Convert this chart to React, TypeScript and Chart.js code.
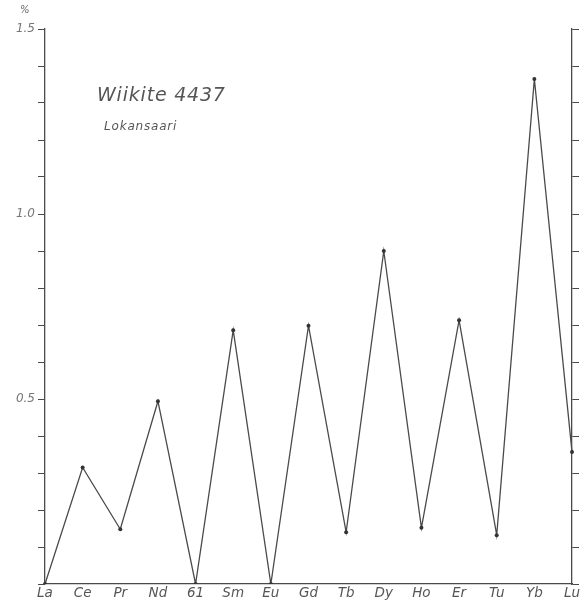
import React, { useEffect, useRef } from "react";
import { Chart, registerables } from "chart.js";

Chart.register(...registerables);

const elements = ["La", "Ce", "Pr", "Nd", "61", "Sm", "Eu", "Gd", "Tb", "Dy", "Ho", "Er", "Tu", "Yb", "Lu"];
const percent = [0, 0.315, 0.148, 0.494, 0, 0.686, 0, 0.698, 0.14, 0.9, 0.152, 0.713, 0.132, 1.365, 0.357];
const labelledTicks = [0.5, 1.0, 1.5];
const titleText = "Wiikite 4437";
const subtitleText = "Lokansaari";

const INK = "#4a4a4a";
const FONT = "'DejaVu Sans', sans-serif";

export default function App() {
  const ref = useRef<HTMLCanvasElement | null>(null);

  useEffect(() => {
    document.body.style.margin = "0";
    const ctx = ref.current!;
    const chart = new Chart(ctx, {
      type: "line",
      data: {
        labels: elements,
        datasets: [
          {
            data: percent,
            borderColor: INK,
            borderWidth: 1.3,
            pointRadius: 2,
            pointBackgroundColor: "#333",
            pointBorderWidth: 0,
            tension: 0,
            fill: false,
          },
        ],
      },
      options: {
        animation: false,
        responsive: false,
        devicePixelRatio: 1,
        layout: { padding: { top: 29, left: 0, right: 0, bottom: 0 } },
        plugins: { legend: { display: false }, tooltip: { enabled: false } },
        scales: {
          x: {
            type: "category",
            offset: false,
            grid: { display: false, drawTicks: false },
            border: { display: true, color: INK, width: 1.3 },
            ticks: {
              color: "#555",
              font: { family: FONT, style: "italic", size: 13.5 },
              padding: 1,
              maxRotation: 0,
              autoSkip: false,
            },
            afterFit: (s: any) => {
              s.height = 22;
            },
          },
          y: {
            position: "left",
            min: 0,
            max: 1.5,
            grid: { display: true, drawOnChartArea: false, drawTicks: true, tickLength: 7, color: INK, lineWidth: 1 },
            border: { display: true, color: INK, width: 1.3 },
            ticks: {
              stepSize: 0.1,
              color: "#777",
              padding: 3,
              font: { family: FONT, style: "italic", size: 12 },
              callback: (v: any) => {
                const n = Math.round(Number(v) * 10) / 10;
                if (labelledTicks.some((t) => Math.abs(t - n) < 1e-6)) return n.toFixed(1);
                return "";
              },
            },
            afterFit: (s: any) => {
              s.width = 45;
            },
          },
          y2: {
            position: "right",
            min: 0,
            max: 1.5,
            grid: { display: true, drawOnChartArea: false, drawTicks: true, tickLength: 7, color: INK, lineWidth: 1 },
            border: { display: true, color: INK, width: 1.3 },
            ticks: { stepSize: 0.1, display: true, callback: () => "", padding: 0 },
            afterFit: (s: any) => {
              s.width = 12;
            },
          },
        },
      },
    });
    return () => chart.destroy();
  }, []);

  return (
    <div style={{ position: "relative", width: 584, height: 606, background: "#fff" }}>
      <canvas ref={ref} width={584} height={606} style={{ position: "absolute", left: 0, top: 0 }} />
      <div
        style={{
          position: "absolute",
          left: 20,
          top: 4,
          fontFamily: FONT,
          fontStyle: "italic",
          fontSize: 10,
          color: "#666",
        }}
      >
        %
      </div>
      <div
        style={{
          position: "absolute",
          left: 97,
          top: 83,
          fontFamily: FONT,
          fontStyle: "italic",
          fontSize: 19,
          color: "#555",
          letterSpacing: 0.8,
        }}
      >
        {titleText}
      </div>
      <div
        style={{
          position: "absolute",
          left: 104,
          top: 119,
          fontFamily: FONT,
          fontStyle: "italic",
          fontSize: 12,
          color: "#555",
          letterSpacing: 0.8,
        }}
      >
        {subtitleText}
      </div>
    </div>
  );
}
